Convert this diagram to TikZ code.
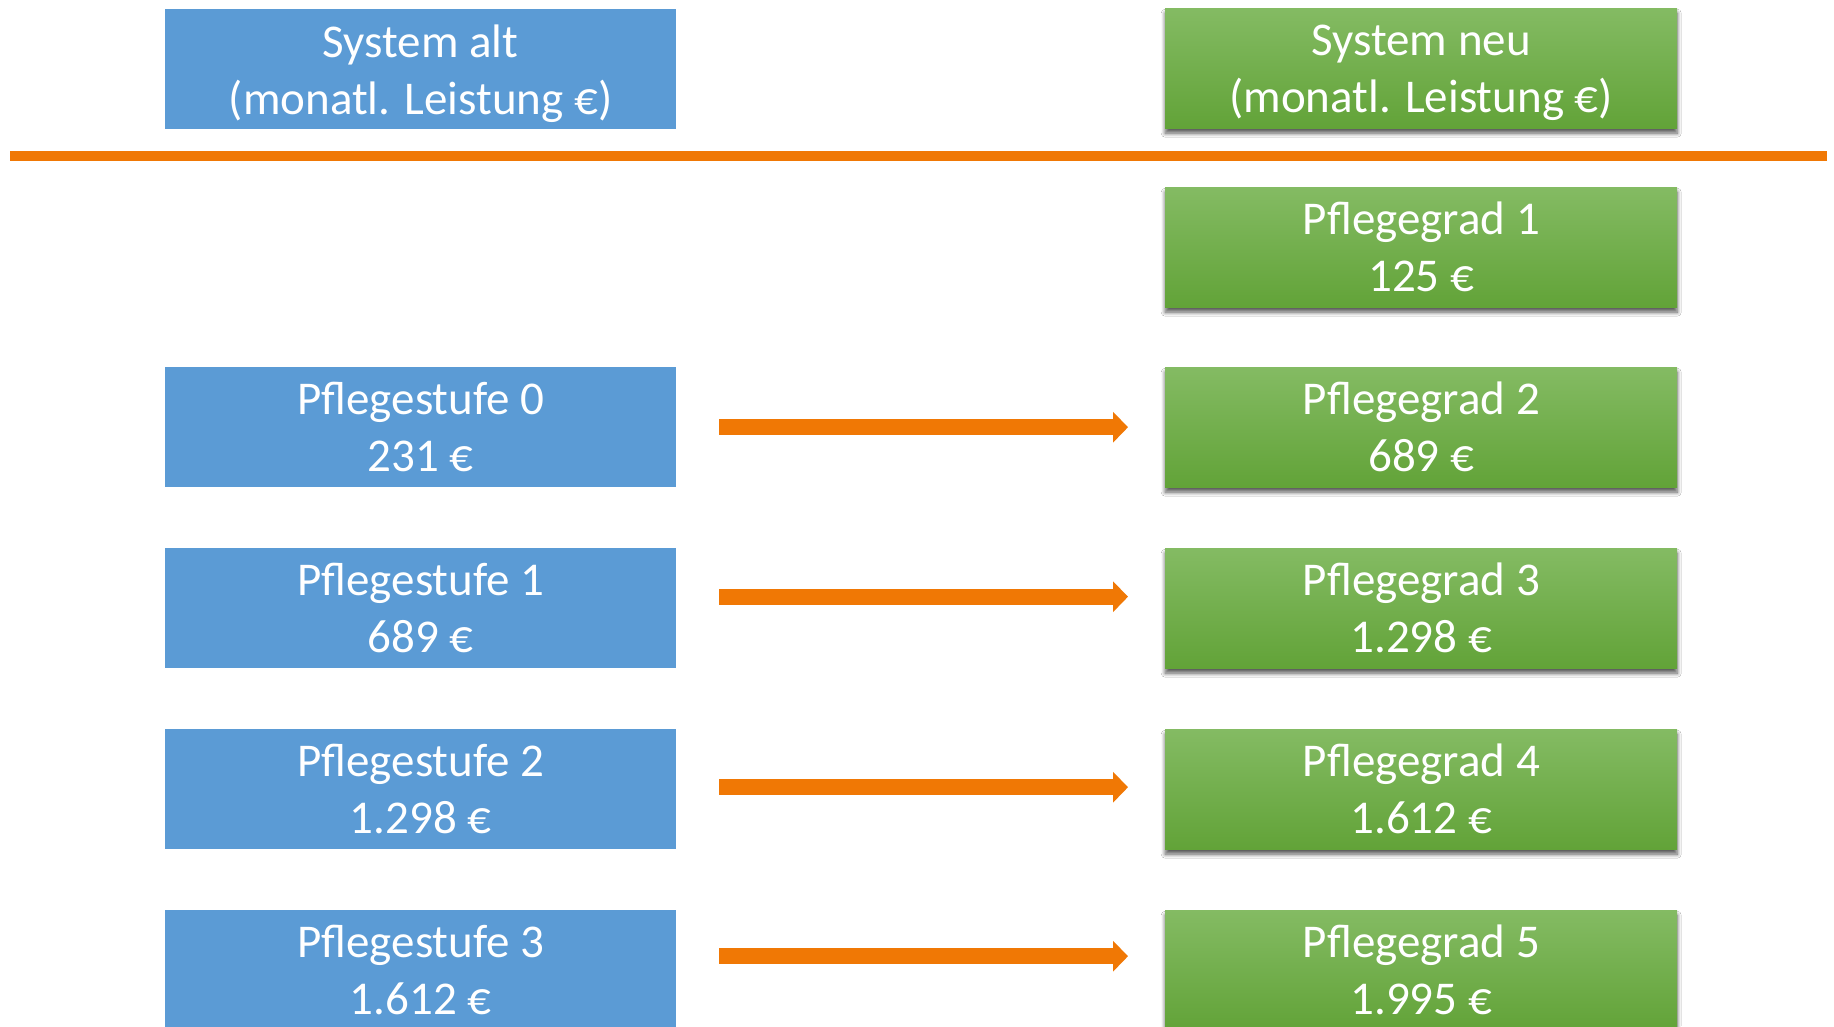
\documentclass[tikz,border=0pt]{standalone}
\usepackage{fontspec}
\setmainfont{Carlito}
\usetikzlibrary{arrows.meta,shadows.blur}
\definecolor{oblue}{RGB}{91,155,213}
\definecolor{gtop}{RGB}{132,187,99}
\definecolor{gbot}{RGB}{98,163,56}
\definecolor{oorange}{RGB}{240,120,5}
\begin{document}
\begin{tikzpicture}[x=1pt,y=-1pt,
 txt/.style={text=white, align=center, font=\fontsize{47}{57}\selectfont},
 box/.style={txt, minimum width=511pt, minimum height=120pt, inner sep=0pt, anchor=north west},
 oldbox/.style={box, fill=oblue},
 newbox/.style={box, minimum width=512pt, top color=gtop, bottom color=gbot, blur shadow={shadow xshift=0pt, shadow yshift=-5pt, shadow blur radius=4pt, shadow blur steps=8, shadow opacity=65, shadow scale=1}},
 hdrtext/.style={txt, inner sep=0pt, anchor=center},
 conn/.style={draw=oorange, line width=16pt, -{Triangle[length=15pt,width=30pt]}, shorten <=43pt, shorten >=37pt},
 sepline/.style={draw=oorange, line width=10pt}]
\useasboundingbox (0,0) rectangle (1834,1026);
\clip (0,0) rectangle (1834,1026);
\fill[white] (0,0) rectangle (1834,1026);
\node[oldbox] (h1) at (165,9) {};
\node[hdrtext] (h1t) at ([yshift=-5pt]h1.center) {System alt\\(monatl. Leistung €)};
\node[newbox] (h2) at (1165,8) {};
\node[hdrtext] (h2t) at ([yshift=-5pt]h2.center) {System neu\\(monatl. Leistung €)};
\coordinate (sl) at (10,156);
\coordinate (sr) at (1827,156);
\draw[sepline] (sl) -- (sr);
\node[newbox] (g1) at (1165,187) {Pflegegrad 1\\125 €};
\node[oldbox] (o0) at (165,367) {Pflegestufe 0\\231 €};
\node[newbox] (g2) at (1165,367) {Pflegegrad 2\\689 €};
\node[oldbox] (o1) at (165,548) {Pflegestufe 1\\689 €};
\node[newbox] (g3) at (1165,548) {Pflegegrad 3\\1.298 €};
\node[oldbox] (o2) at (165,729) {Pflegestufe 2\\1.298 €};
\node[newbox] (g4) at (1165,729) {Pflegegrad 4\\1.612 €};
\node[oldbox] (o3) at (165,910) {Pflegestufe 3\\1.612 €};
\node[newbox] (g5) at (1165,910) {Pflegegrad 5\\1.995 €};
\draw[conn] (o0.east) -- (g2.west);
\draw[conn] ([yshift=11.5pt]o1.east) -- ([yshift=11.5pt]g3.west);
\draw[conn] ([yshift=2pt]o2.east) -- ([yshift=2pt]g4.west);
\draw[conn] ([yshift=14pt]o3.east) -- ([yshift=14pt]g5.west);
\end{tikzpicture}
\end{document}
